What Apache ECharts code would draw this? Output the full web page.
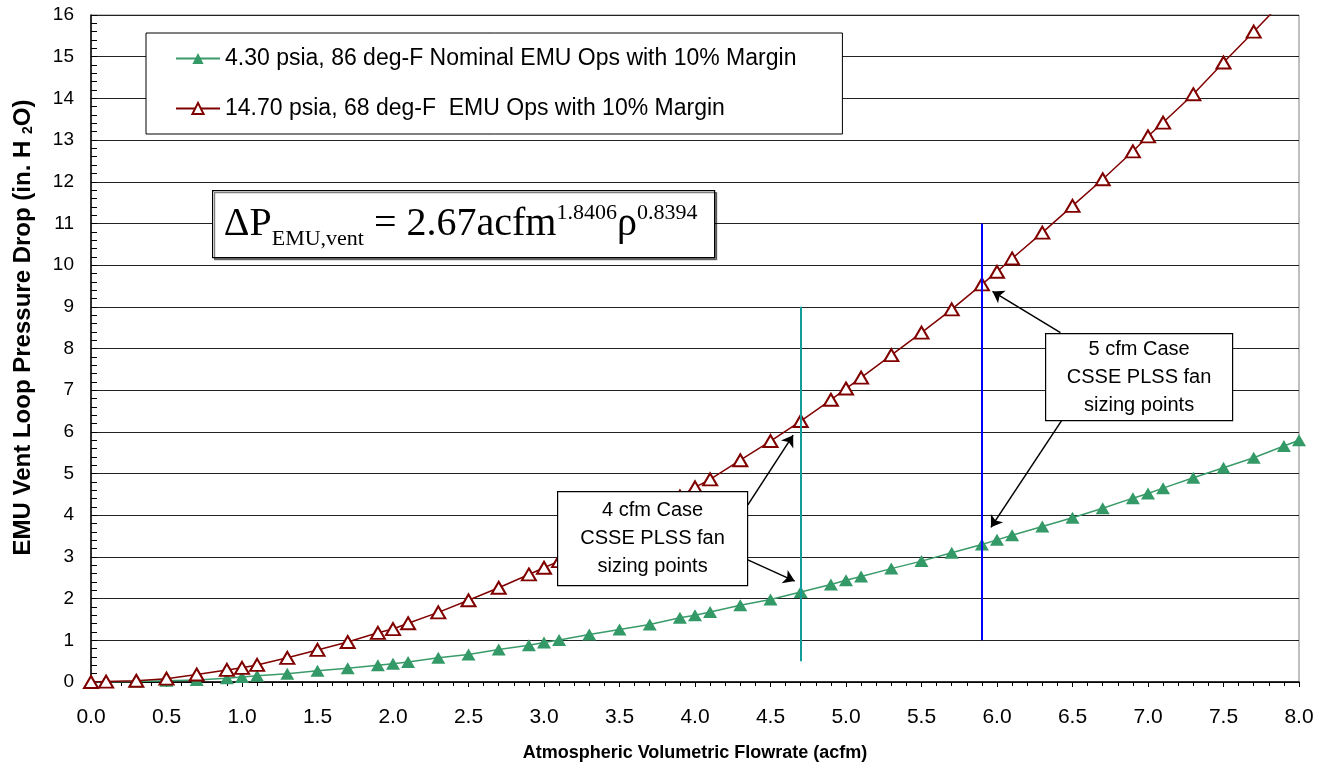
<!DOCTYPE html>
<html>
<head>
<meta charset="utf-8">
<script src="https://cdn.jsdelivr.net/npm/echarts@6/dist/echarts.min.js"></script>
<style>
  html, body { margin: 0; padding: 0; background: #fff; }
  #chart { width: 1325px; height: 769px; }
</style>
</head>
<body>
<div id="chart"></div>
<script>
var myChart = echarts.init(document.getElementById('chart'));

// flowrate points (acfm)
var flowRed = [0, 0.1, 0.3, 0.5, 0.7, 0.9, 1.0, 1.1, 1.3, 1.5, 1.7, 1.9, 2.0, 2.1, 2.3, 2.5, 2.7, 2.9, 3.0, 3.1,
  3.3, 3.5, 3.7, 3.9, 4.0, 4.1, 4.3, 4.5, 4.7, 4.9, 5.0, 5.1, 5.3, 5.5, 5.7, 5.9, 6.0, 6.1, 6.3, 6.5,
  6.7, 6.9, 7.0, 7.1, 7.3, 7.5, 7.7, 7.9];
var flowGreen = flowRed.concat([8.0]);

// 14.70 psia, 68 deg-F
var dpSea = [0, 0.01, 0.03, 0.08, 0.18, 0.29, 0.34, 0.41, 0.58, 0.77, 0.96, 1.18, 1.27, 1.41, 1.67, 1.96, 2.26, 2.58, 2.74, 2.90,
  3.24, 3.63, 4.03, 4.45, 4.67, 4.86, 5.32, 5.78, 6.26, 6.77, 7.04, 7.30, 7.84, 8.38, 8.94, 9.54, 9.84, 10.16, 10.78, 11.42,
  12.06, 12.73, 13.09, 13.42, 14.10, 14.86, 15.60, 16.35];
// 4.30 psia, 86 deg-F
var dpNominal = [0, 0, 0.01, 0.03, 0.05, 0.09, 0.12, 0.15, 0.20, 0.27, 0.33, 0.40, 0.44, 0.48, 0.58, 0.66, 0.78, 0.88, 0.95, 1.01,
  1.14, 1.26, 1.38, 1.54, 1.60, 1.68, 1.84, 1.98, 2.16, 2.34, 2.44, 2.53, 2.72, 2.90, 3.10, 3.30, 3.41, 3.52, 3.73, 3.94,
  4.17, 4.41, 4.52, 4.65, 4.90, 5.14, 5.38, 5.66, 5.80];

var seriesNames = ['4.30 psia, 86 deg-F Nominal EMU Ops with 10% Margin', '14.70 psia, 68 deg-F  EMU Ops with 10% Margin'];

// fan sizing lines: [x, yFrom, yTo]
var case4Line = [4.7, 0.5, 9];
var case5Line = [5.9, 1, 11];

// annotation arrows: [fromX, fromY, toX, toY]
var arrows = [
  [4.35, 4.25, 4.65, 5.92],
  [4.35, 2.93, 4.66, 2.42],
  [6.42, 8.38, 5.97, 9.37],
  [6.43, 6.28, 5.96, 3.71]
];

function pairs(xs, ys) {
  return xs.map(function (x, i) { return [x, ys[i]]; });
}

var font = 'Liberation Sans, Arial, sans-serif';
var serif = 'Liberation Serif, Times New Roman, serif';

function noteBox(left, top, w, h, text) {
  return {
    type: 'group', left: left, top: top,
    children: [
      { type: 'rect', z: 100, shape: { x: 0, y: 0, width: w, height: h },
        style: { fill: '#fff', stroke: '#000', lineWidth: 1.2 } },
      { type: 'text', z: 101, x: w / 2, y: h / 2,
        style: { text: text, textAlign: 'center', textVerticalAlign: 'middle',
          font: '20px ' + font, fill: '#000', lineHeight: 28 } }
    ]
  };
}

var option = {
  animation: false,
  backgroundColor: '#fff',
  grid: {
    left: 91, right: 26, top: 15, bottom: 87,
    show: true, borderColor: '#808080', borderWidth: 1
  },
  legend: {
    orient: 'vertical',
    left: 146, top: 33,
    padding: [14, 46, 14, 29],
    itemGap: 27,
    itemWidth: 44, itemHeight: 14,
    backgroundColor: '#fff',
    borderColor: '#000', borderWidth: 1,
    textStyle: { fontFamily: font, fontSize: 23, color: '#000' },
    data: seriesNames
  },
  xAxis: {
    type: 'value',
    min: 0, max: 8, interval: 0.5,
    name: 'Atmospheric Volumetric Flowrate (acfm)',
    nameLocation: 'middle', nameGap: 62,
    nameTextStyle: { fontFamily: font, fontSize: 18, fontWeight: 'bold', color: '#000' },
    axisLine: { lineStyle: { color: '#000', width: 1.5 } },
    axisTick: { show: true, length: 5, lineStyle: { color: '#000' } },
    minorTick: { show: true, splitNumber: 5, length: 4, lineStyle: { color: '#000' } },
    axisLabel: {
      fontFamily: font, fontSize: 21, color: '#000', margin: 25,
      formatter: function (v) { return v.toFixed(1); }
    },
    splitLine: { show: false }
  },
  yAxis: {
    type: 'value',
    min: 0, max: 16, interval: 1,
    name: 'EMU Vent Loop Pressure Drop (in. H {sub|2}O)',
    nameLocation: 'middle', nameGap: 56,
    nameTextStyle: {
      fontFamily: font, fontSize: 24, fontWeight: 'bold', color: '#000',
      padding: [0, 0, 0, 42],
      rich: { sub: { fontFamily: font, fontSize: 14, fontWeight: 'bold', color: '#000', verticalAlign: 'bottom', padding: [10, 0, 0, 0] } }
    },
    axisLine: { lineStyle: { color: '#000', width: 1.5 } },
    axisTick: { show: true, inside: true, length: 6, lineStyle: { color: '#000' } },
    minorTick: { show: true, splitNumber: 5, length: 6, lineStyle: { color: '#000' } },
    axisLabel: { fontFamily: font, fontSize: 19, color: '#000', margin: 17 },
    splitLine: { show: true, lineStyle: { color: '#222', width: 1 } }
  },
  series: [
    {
      name: seriesNames[0],
      type: 'line',
      data: pairs(flowGreen, dpNominal),
      symbol: 'triangle', symbolSize: [14, 12],
      lineStyle: { color: '#3a9b6a', width: 1.5 },
      itemStyle: { color: '#339966' },
      markLine: {
        silent: true, symbol: 'none', label: { show: false },
        data: [
          [{ coord: [case4Line[0], case4Line[1]], lineStyle: { color: '#129c9c', width: 2, type: 'solid' } },
           { coord: [case4Line[0], case4Line[2]] }],
          [{ coord: [case5Line[0], case5Line[1]], lineStyle: { color: '#0000ff', width: 2, type: 'solid' } },
           { coord: [case5Line[0], case5Line[2]] }]
        ]
      }
    },
    {
      name: seriesNames[1],
      type: 'line',
      data: pairs(flowRed, dpSea),
      symbol: 'emptyTriangle', symbolSize: [14, 12],
      lineStyle: { color: '#800000', width: 1.5 },
      itemStyle: { color: '#800000', borderWidth: 1.8 },
      z: 3,
      markLine: {
        silent: true, symbol: ['none', 'arrow'], symbolSize: 11,
        label: { show: false },
        lineStyle: { color: '#000', width: 1.5, type: 'solid' },
        data: arrows.map(function (a) {
          return [{ coord: [a[0], a[1]] }, { coord: [a[2], a[3]] }];
        }),
        z: 20
      }
    }
  ],
  graphic: [
    {
      type: 'group', left: 212, top: 190,
      children: [
        { type: 'rect', z: 100, shape: { x: 0, y: 0, width: 502, height: 67 },
          style: { fill: '#fff', stroke: '#000', lineWidth: 1.2, shadowColor: 'rgba(0,0,0,0.5)', shadowOffsetX: 2, shadowOffsetY: 2 } },
        { type: 'text', z: 101, x: 248, y: 34,
          style: {
            text: '{a|ΔP}{b|EMU,vent}{a| = 2.67acfm}{c|1.8406}{a|ρ}{c|0.8394}',
            textAlign: 'center', textVerticalAlign: 'middle',
            rich: {
              a: { fontFamily: serif, fontSize: 40, color: '#000', lineHeight: 56, verticalAlign: 'middle' },
              b: { fontFamily: serif, fontSize: 22, color: '#000', lineHeight: 56, verticalAlign: 'bottom', padding: [0, 0, 2, 0] },
              c: { fontFamily: serif, fontSize: 22, color: '#000', lineHeight: 56, verticalAlign: 'top', padding: [6, 0, 0, 0] }
            }
          } }
      ]
    },
    noteBox(557, 491, 190, 94, '4 cfm Case\nCSSE PLSS fan\nsizing points'),
    noteBox(1045, 333, 187, 87, '5 cfm Case\nCSSE PLSS fan\nsizing points')
  ]
};

myChart.setOption(option);
</script>
</body>
</html>
